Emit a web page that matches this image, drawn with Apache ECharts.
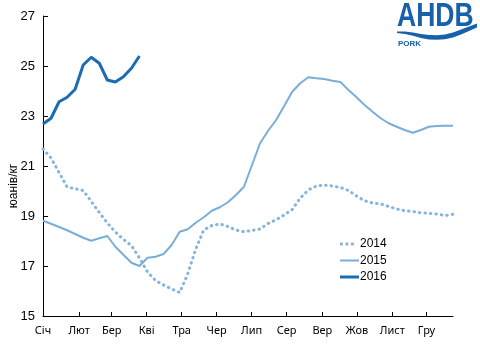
<!DOCTYPE html>
<html>
<head>
<meta charset="utf-8">
<script src="https://cdn.jsdelivr.net/npm/echarts@6/dist/echarts.min.js"></script>
<style>html,body{margin:0;padding:0;background:#fff;}#c{width:480px;height:360px;}</style>
</head>
<body>
<div id="c"></div>
<script>
var weeks = [];
for (var i = 1; i <= 52; i++) weeks.push(i);

var monthNames = ['Січ','Лют','Бер','Кві','Тра','Чер','Лип','Сер','Вер','Жов','Лист','Гру'];
var monthWeeks = [1, 5.5, 9.55, 13.9, 18.25, 22.6, 26.95, 31.3, 35.75, 40.05, 44.45, 48.7];
var yTicks = [15, 17, 19, 21, 23, 25, 27];

var s2014 = [21.68,21.32,20.74,20.16,20.09,20.02,19.58,19.14,18.72,18.36,18.06,17.82,
  17.32,16.76,16.42,16.24,16.08,15.94,16.68,17.68,18.44,18.62,18.68,18.58,18.44,18.37,
  18.42,18.48,18.70,18.85,19.04,19.26,19.72,20.04,20.20,20.24,20.20,20.14,20.02,19.80,
  19.61,19.52,19.48,19.38,19.28,19.21,19.18,19.13,19.11,19.08,19.02,19.07];
var s2015 = [18.81,18.69,18.56,18.43,18.28,18.13,18.01,18.11,18.20,17.77,17.45,17.13,
  17.00,17.33,17.37,17.48,17.84,18.37,18.47,18.73,18.95,19.21,19.35,19.55,19.84,20.17,
  21.04,21.91,22.41,22.84,23.40,23.97,24.31,24.55,24.51,24.48,24.41,24.36,24.04,23.75,
  23.44,23.17,22.91,22.71,22.57,22.44,22.33,22.44,22.57,22.60,22.61,22.61];
var s2016 = [22.68,22.91,23.57,23.75,24.07,25.04,25.35,25.11,24.44,24.36,24.57,24.91,25.40];

function pairs(arr){ return arr.map(function(v,i){ return [weeks[i], v]; }); }

var BOUNDS = 'M0,0 h0.01 v0.01 h-0.01z M0,10 h0.01 v-0.01 h-0.01z M19,0 h0.01 v0.01 h-0.01z ';
var chart = echarts.init(document.getElementById('c'));
chart.setOption({
  animation: false,
  backgroundColor: '#fff',
  grid: { left: 43, right: 27, top: 16, bottom: 44, containLabel: false, outerBoundsMode: 'none' },
  legend: {
    orient: 'vertical', left: 340, top: 237, itemGap: 2.5, padding: 0,
    itemWidth: 19, itemHeight: 10,
    textStyle: { fontFamily: 'Liberation Sans, Arial', fontSize: 12, lineHeight: 14, color: '#000', padding: [0,0,0,-4] },
    data: [
      { name: '2014', icon: 'path://' + BOUNDS + 'M0,3.6 h2.8 v2.8 h-2.8z M5.5,3.6 h2.8 v2.8 h-2.8z M11,3.6 h2.8 v2.8 h-2.8z' },
      { name: '2015', icon: 'path://' + BOUNDS + 'M0,4 h19 v2 h-19z' },
      { name: '2016', icon: 'path://' + BOUNDS + 'M0,3.5 h19 v3 h-19z' }
    ]
  },
  xAxis: {
    type: 'value', min: 1, max: 52,
    axisLine: { show: true, lineStyle: { color: '#000', width: 1 } },
    axisTick: { show: true, inside: true, length: 4, customValues: monthWeeks, lineStyle: { color: '#000' } },
    axisLabel: {
      customValues: monthWeeks, color: '#000', fontSize: 11, margin: 9,
      fontFamily: 'Noto Sans, DejaVu Sans',
      formatter: function(v){ var i = monthWeeks.indexOf(v); return i >= 0 ? monthNames[i] : ''; }
    },
    splitLine: { show: false }
  },
  yAxis: {
    type: 'value', min: 15, max: 27,
    name: 'юанів/кг', nameLocation: 'middle', nameGap: 23, nameRotate: 90, nameMoveOverlap: false,
    nameTextStyle: { fontFamily: 'Liberation Sans, Arial', fontSize: 12, color: '#000', padding: [0, 40, 0, 0] },
    axisLine: { show: true, lineStyle: { color: '#000', width: 1 } },
    axisTick: { show: true, inside: true, length: 5, customValues: yTicks, lineStyle: { color: '#000' } },
    axisLabel: { customValues: yTicks, color: '#000', fontSize: 13, margin: 8, fontFamily: 'Liberation Sans, Arial' },
    splitLine: { show: false }
  },
  series: [
    { name: '2014', type: 'line', data: pairs(s2014), showSymbol: false, symbol: 'none',
      itemStyle: { color: '#86b5dc' },
      lineStyle: { color: '#86b5dc', width: 3, type: [0.5, 5], cap: 'round' } },
    { name: '2015', type: 'line', data: pairs(s2015), showSymbol: false, symbol: 'none',
      itemStyle: { color: '#7aaed8' },
      lineStyle: { color: '#7aaed8', width: 2 } },
    { name: '2016', type: 'line', data: pairs(s2016), showSymbol: false, symbol: 'none',
      itemStyle: { color: '#1b6db3' },
      lineStyle: { color: '#1b6db3', width: 3 } }
  ],
  graphic: [
    { type: 'text', x: 397, y: 0, scaleX: 0.78, style: { text: 'AHDB', fill: '#1760aa', font: 'bold 34px "Liberation Sans", Arial' } },
    { type: 'polygon', shape: { points: [
        [397,31.5],[405,31.5],[413,32.5],[421,34],[429,35],[437,35.3],[445,34.5],[453,32.5],[461,29.5],[469,26.5],[477,23.5],
        [477,27.5],[469,31],[461,34.5],[453,37.5],[445,39.2],[437,39.8],[429,39.5],[421,38],[413,35.8],[405,34],[397,33]
      ] }, style: { fill: '#1760aa' } },
    { type: 'text', x: 398, y: 40, style: { text: 'PORK', fill: '#1760aa', font: 'bold 8px "Liberation Sans", Arial' } }
  ]
});
</script>
</body>
</html>
